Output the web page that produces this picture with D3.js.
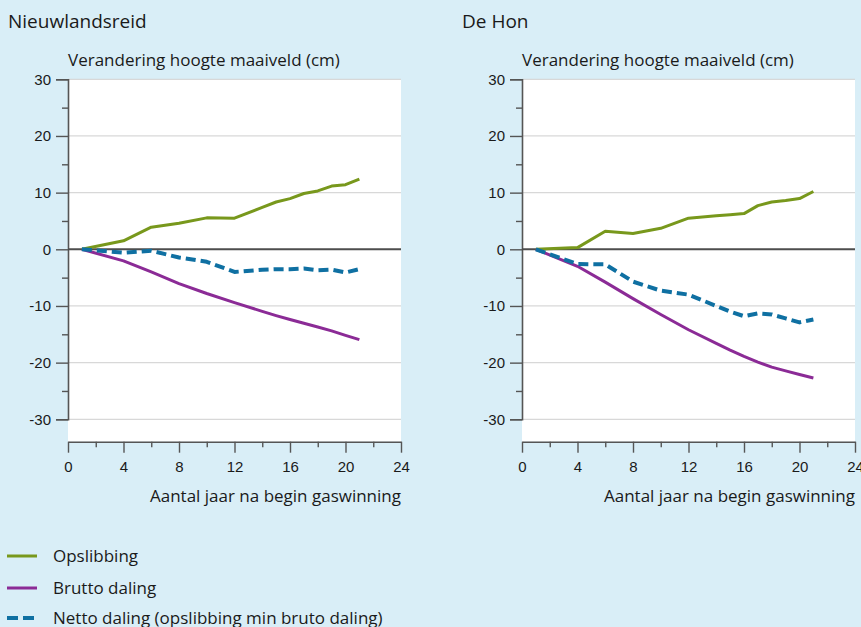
<!DOCTYPE html>
<html>
<head>
<meta charset="utf-8">
<script src="https://cdn.jsdelivr.net/npm/d3@7"></script>
<style>
  html, body { margin: 0; padding: 0; background: #d9eef7; }
  svg { display: block; font-family: "Open Sans", "Noto Sans", sans-serif; }
  .tick-label { font-variant-numeric: oldstyle-nums; }
</style>
</head>
<body>
<svg id="chart" width="861" height="627"></svg>
<script>
const jaren = [1, 4, 6, 8, 10, 12, 14, 15, 16, 17, 18, 19, 20, 21];

// Nieuwlandsreid (cm)
const nieuwlandsreidOpslibbing = [0, 1.5, 3.9, 4.6, 5.55, 5.5, 7.4, 8.35, 8.95, 9.85, 10.3, 11.15, 11.4, 12.4];
const nieuwlandsreidBrutoDaling = [0, -2.05, -4.0, -6.05, -7.8, -9.4, -10.95, -11.7, -12.4, -13.05, -13.7, -14.4, -15.2, -15.95];
const nieuwlandsreidNettoDaling = [0, -0.6, -0.25, -1.45, -2.2, -4.0, -3.6, -3.5, -3.5, -3.4, -3.7, -3.6, -4.1, -3.5];

// De Hon (cm)
const deHonOpslibbing = [0, 0.3, 3.2, 2.8, 3.7, 5.5, 5.9, 6.1, 6.3, 7.7, 8.35, 8.6, 8.95, 10.2];
const deHonBrutoDaling = [0, -3.0, -5.8, -8.7, -11.5, -14.2, -16.6, -17.8, -18.9, -19.9, -20.8, -21.45, -22.1, -22.7];
const deHonNettoDaling = [0, -2.6, -2.65, -5.7, -7.3, -8.0, -10.0, -11.0, -11.8, -11.3, -11.5, -12.2, -12.9, -12.4];

// As-indeling
const yTicks = [-30, -20, -10, 0, 10, 20, 30];
const yMinorTicks = [-25, -15, -5, 5, 15, 25];
const xTicks = [0, 4, 8, 12, 16, 20, 24];
const xMinorTicks = [2, 6, 10, 14, 18, 22];

const panelTitles = ["Nieuwlandsreid", "De Hon"];
const yTitle = "Verandering hoogte maaiveld (cm)";
const xTitle = "Aantal jaar na begin gaswinning";

const seriesNames = ["Opslibbing", "Brutto daling", "Netto daling (opslibbing min bruto daling)"];
const seriesColors = ["#78981c", "#8b2b96", "#0f70a2"];

const panels = [
  { title: panelTitles[0], left: 68, values: [nieuwlandsreidOpslibbing, nieuwlandsreidBrutoDaling, nieuwlandsreidNettoDaling] },
  { title: panelTitles[1], left: 522, values: [deHonOpslibbing, deHonBrutoDaling, deHonNettoDaling] }
];

const svg = d3.select("#chart");
const plotW = 333;
const yTop = 79.3, yBottom = 419.3, xAxisY = 441.7;
const textColor = "#1a1a1a";
const axisColor = "#555555";
const fmt = d => String(d); // plain hyphen for negatives

panels.forEach((p, pi) => {
  const g = svg.append("g");
  const x = d3.scaleLinear().domain([0, 24]).range([p.left, p.left + plotW]);
  const y = d3.scaleLinear().domain([-30, 30]).range([yBottom, yTop]);

  // panel title
  g.append("text")
    .attr("x", p.left - 60).attr("y", 28)
    .attr("font-size", 19).attr("fill", textColor)
    .text(p.title);

  // y axis title
  g.append("text")
    .attr("x", p.left).attr("y", 66)
    .attr("font-size", 17).attr("fill", textColor)
    .text(yTitle);

  // white plot area
  g.append("rect")
    .attr("x", x(0)).attr("y", yTop)
    .attr("width", x(24) - x(0)).attr("height", xAxisY - yTop)
    .attr("fill", "#ffffff");

  // gridlines
  g.selectAll(".grid").data(yTicks.filter(d => d !== 0)).join("line")
    .attr("x1", x(0)).attr("x2", x(24))
    .attr("y1", d => y(d)).attr("y2", d => y(d))
    .attr("stroke", "#d8d8d8").attr("stroke-width", 1.3);

  // y axis
  const yAxis = d3.axisLeft(y).tickValues(yTicks).tickSize(12).tickPadding(5).tickFormat(fmt);
  const ya = g.append("g").attr("transform", `translate(${x(0)},0)`).call(yAxis);
  ya.select(".domain").attr("stroke", axisColor).attr("stroke-width", 1.6);
  ya.selectAll(".tick line").attr("stroke", axisColor).attr("stroke-width", 1.4);
  ya.selectAll(".tick text").attr("class", "tick-label")
    .attr("font-size", 15).attr("fill", textColor).attr("font-family", null);
  const yMinor = d3.axisLeft(y).tickValues(yMinorTicks).tickSize(6).tickFormat("");
  const yam = g.append("g").attr("transform", `translate(${x(0)},0)`).call(yMinor);
  yam.select(".domain").remove();
  yam.selectAll(".tick line").attr("stroke", axisColor).attr("stroke-width", 1.4);

  // x axis
  const xAxis = d3.axisBottom(x).tickValues(xTicks).tickSize(11).tickPadding(9).tickSizeOuter(0).tickFormat(fmt);
  const xa = g.append("g").attr("transform", `translate(0,${xAxisY})`).call(xAxis);
  xa.select(".domain").attr("stroke", axisColor).attr("stroke-width", 1.6);
  xa.selectAll(".tick line").attr("stroke", axisColor).attr("stroke-width", 1.4);
  xa.selectAll(".tick text").attr("class", "tick-label")
    .attr("font-size", 15).attr("fill", textColor).attr("font-family", null);
  const xMinor = d3.axisBottom(x).tickValues(xMinorTicks).tickSize(5.5).tickFormat("");
  const xam = g.append("g").attr("transform", `translate(0,${xAxisY})`).call(xMinor);
  xam.select(".domain").remove();
  xam.selectAll(".tick line").attr("stroke", axisColor).attr("stroke-width", 1.4);

  // x axis title
  g.append("text")
    .attr("x", x(24)).attr("y", 502)
    .attr("text-anchor", "end")
    .attr("font-size", 17).attr("fill", textColor)
    .text(xTitle);

  // zero line
  g.append("line")
    .attr("x1", x(0)).attr("x2", x(24))
    .attr("y1", y(0)).attr("y2", y(0))
    .attr("stroke", "#4d4d4d").attr("stroke-width", 2);

  // series lines
  const line = d3.line().x((d, i) => x(jaren[i])).y(d => y(d));
  p.values.forEach((vals, si) => {
    g.append("path")
      .datum(vals)
      .attr("d", line)
      .attr("fill", "none")
      .attr("stroke", seriesColors[si])
      .attr("stroke-width", si === 2 ? 4 : 3)
      .attr("stroke-linejoin", "round")
      .attr("stroke-dasharray", si === 2 ? "10,5" : null);
  });
});

// legend
const legendRows = [556, 588, 618];
const legend = svg.append("g");
seriesNames.forEach((name, i) => {
  legend.append("line")
    .attr("x1", 7).attr("x2", 37)
    .attr("y1", legendRows[i]).attr("y2", legendRows[i])
    .attr("stroke", seriesColors[i])
    .attr("stroke-width", i === 2 ? 4 : 3)
    .attr("stroke-dasharray", i === 2 ? "11,5" : null);
  legend.append("text")
    .attr("x", 53).attr("y", legendRows[i] + 6)
    .attr("font-size", 17).attr("fill", textColor)
    .text(name);
});
</script>
</body>
</html>
